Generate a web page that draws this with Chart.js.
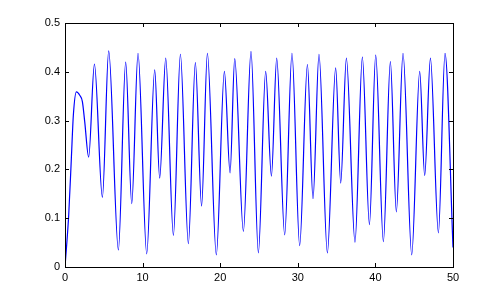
<!DOCTYPE html>
<html>
<head>
<meta charset="utf-8">
<script src="https://cdn.jsdelivr.net/npm/chart.js@4"></script>
<style>
  html, body { margin: 0; padding: 0; background: #fff; }
  #wrap { width: 500px; height: 300px; }
</style>
</head>
<body>
<div id="wrap"><canvas id="plot" width="500" height="300"></canvas></div>
<script>
// tiempo (eje x) y valores: extremos + algunos puntos del arranque
const tValues = [0, 0.48, 0.82, 1.08, 1.47, 1.9, 2.24, 2.54, 3.05, 3.79,
  4.82, 5.63, 6.88, 7.82, 8.6, 9.41, 10.53, 11.56, 12.2, 12.98,
  13.97, 14.87, 15.9, 16.8, 17.6, 18.35, 19.5, 20.54, 21.27, 21.87,
  22.99, 23.97, 24.92, 25.86, 26.6, 27.28, 28.31, 29.25, 30.24, 31.24,
  31.96, 32.73, 33.81, 34.88, 35.53, 36.26, 37.37, 38.32, 39.23, 40.04,
  41.03, 41.93, 42.7, 43.56, 44.68, 45.71, 46.35, 47.09, 48.12, 48.97, 50];

const yValues = [0, 0.107, 0.223, 0.312, 0.359, 0.352, 0.339, 0.298, 0.225, 0.416,
  0.143, 0.443, 0.035, 0.420, 0.130, 0.438, 0.027, 0.404, 0.182, 0.428,
  0.065, 0.436, 0.048, 0.419, 0.125, 0.438, 0.025, 0.401, 0.193, 0.427,
  0.073, 0.442, 0.029, 0.401, 0.186, 0.428, 0.066, 0.438, 0.044, 0.415,
  0.140, 0.436, 0.029, 0.408, 0.172, 0.428, 0.051, 0.430, 0.087, 0.434,
  0.052, 0.421, 0.113, 0.438, 0.025, 0.401, 0.187, 0.428, 0.070, 0.438, 0.04];

const xTicks = [0, 10, 20, 30, 40, 50];
const yTicks = [0, 0.1, 0.2, 0.3, 0.4, 0.5];

const points = tValues.map((t, i) => ({ x: t, y: yValues[i] }));

// caja estilo MATLAB: borde completo y marcas hacia dentro en los 4 lados
const boxTicks = {
  id: 'boxTicks',
  afterDraw(chart) {
    const { ctx, chartArea: a, scales } = chart;
    const len = 4;
    ctx.save();
    ctx.strokeStyle = '#000';
    ctx.lineWidth = 1;
    ctx.beginPath();
    xTicks.forEach(v => {
      const px = Math.round(scales.x.getPixelForValue(v)) + 0.5;
      ctx.moveTo(px, a.bottom); ctx.lineTo(px, a.bottom - len);
      ctx.moveTo(px, a.top);    ctx.lineTo(px, a.top + len);
    });
    yTicks.forEach(v => {
      const py = Math.round(scales.y.getPixelForValue(v)) + 0.5;
      ctx.moveTo(a.left, py);  ctx.lineTo(a.left + len, py);
      ctx.moveTo(a.right, py); ctx.lineTo(a.right - len, py);
    });
    ctx.stroke();
    ctx.strokeRect(Math.round(a.left) + 0.5, Math.round(a.top) + 0.5,
                   Math.round(a.right - a.left), Math.round(a.bottom - a.top));
    ctx.restore();
  }
};

Chart.defaults.font.family = "'Liberation Sans', Arial, sans-serif";
Chart.defaults.font.size = 11;
Chart.defaults.color = '#000';

new Chart(document.getElementById('plot'), {
  type: 'line',
  data: {
    datasets: [{
      data: points,
      borderColor: '#0000ff',
      borderWidth: 1.2,
      pointRadius: 0,
      fill: false,
      cubicInterpolationMode: 'monotone',
    }],
  },
  options: {
    responsive: false,
    animation: false,
    layout: { padding: { left: 0, top: 23, right: 47, bottom: 0 } },
    plugins: { legend: { display: false }, tooltip: { enabled: false } },
    scales: {
      x: {
        type: 'linear',
        min: 0,
        max: 50,
        afterFit: s => { s.height = 33; },
        afterBuildTicks: s => { s.ticks = xTicks.map(v => ({ value: v })); },
        ticks: { padding: 4, maxRotation: 0, callback: v => String(v) },
        grid: { display: false, drawTicks: false },
        border: { display: false },
      },
      y: {
        min: 0,
        max: 0.5,
        afterFit: s => { s.width = 65; },
        afterBuildTicks: s => { s.ticks = yTicks.map(v => ({ value: v })); },
        ticks: { padding: 5, callback: v => String(+v.toFixed(1)) },
        grid: { display: false, drawTicks: false },
        border: { display: false },
      },
    },
  },
  plugins: [boxTicks],
});
</script>
</body>
</html>
